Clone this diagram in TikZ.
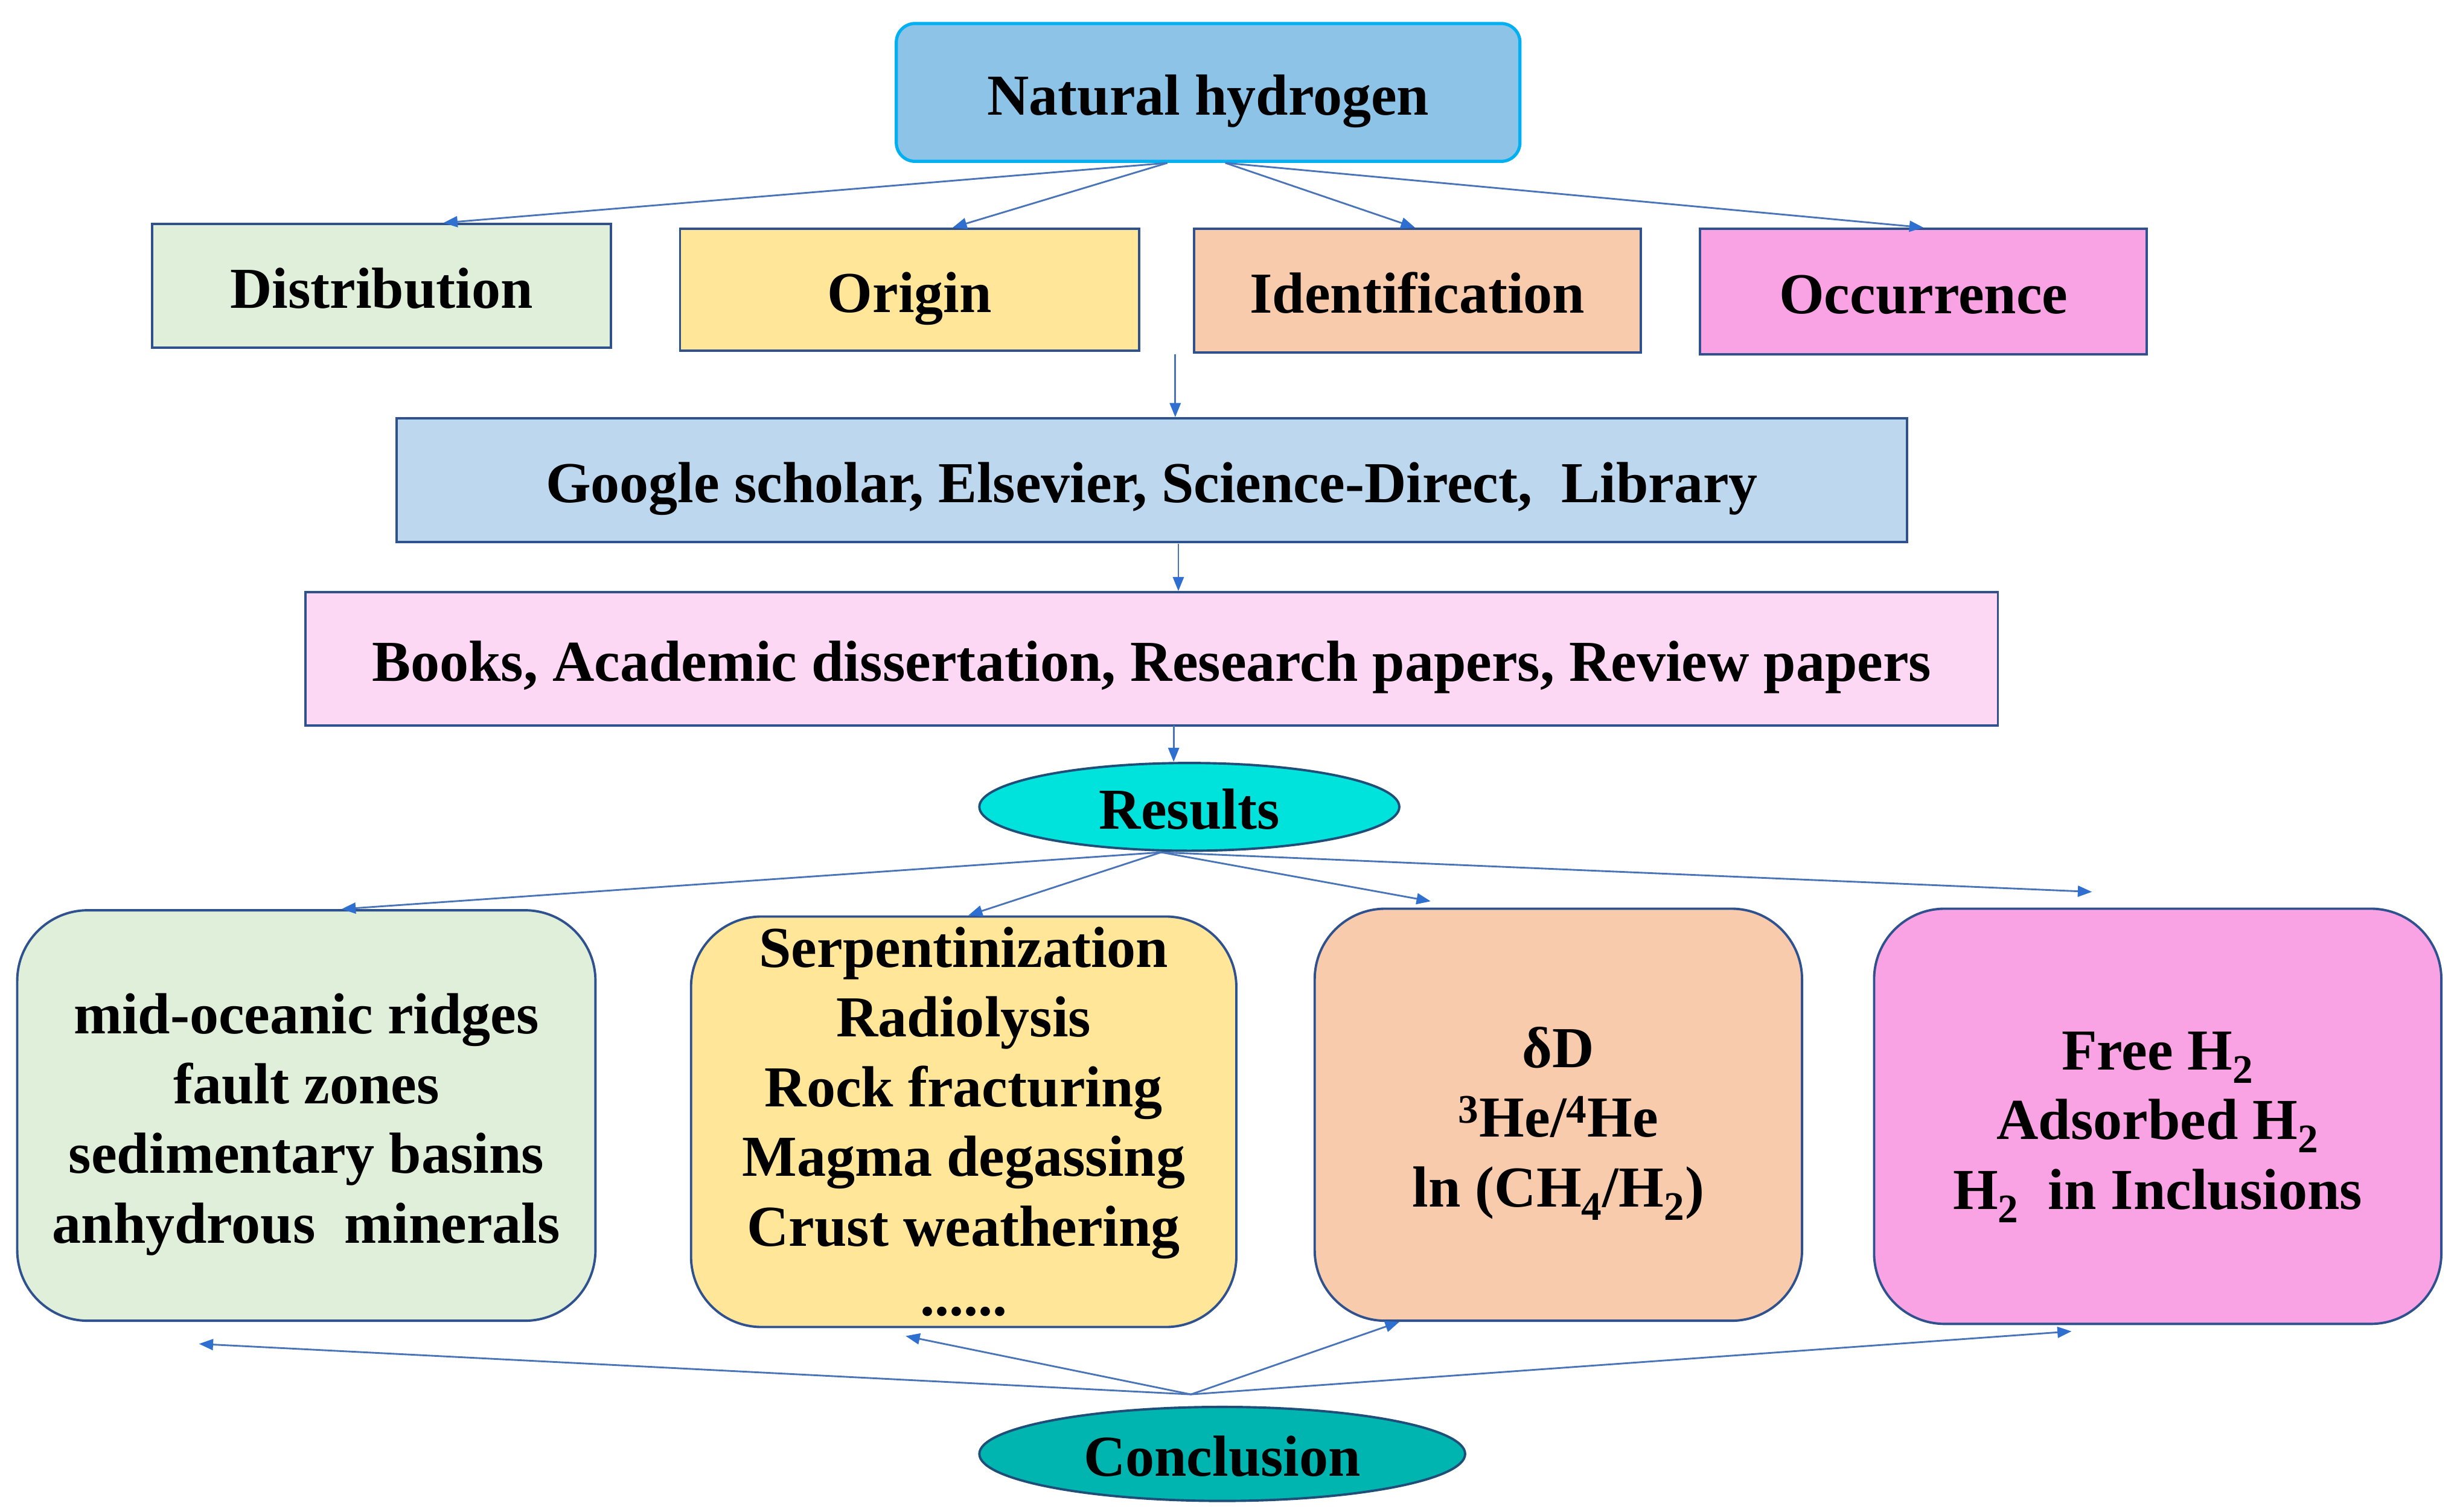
\documentclass[tikz,border=0pt]{standalone}
\usepackage{fontspec}
\setmainfont{Liberation Serif}
\usetikzlibrary{shapes.geometric,arrows.meta}
\definecolor{nhfill}{HTML}{8EC3E8}
\definecolor{nhborder}{HTML}{00B0F0}
\definecolor{boxblue}{HTML}{2F528F}
\definecolor{distfill}{HTML}{DFEFDA}
\definecolor{origfill}{HTML}{FFE699}
\definecolor{idenfill}{HTML}{F8CBAD}
\definecolor{occfill}{HTML}{F9A2E4}
\definecolor{googfill}{HTML}{BDD7EE}
\definecolor{bookfill}{HTML}{FCD8F4}
\definecolor{resfill}{HTML}{00E2DC}
\definecolor{concfill}{HTML}{00B4B0}
\definecolor{ovalborder}{HTML}{1F4E79}
\definecolor{linecol}{HTML}{4A74B8}
\definecolor{tipcol}{HTML}{2E6FD0}
\begin{document}
\begin{tikzpicture}[x=1pt,y=-1pt,
  base/.style={font=\bfseries\fontsize{37}{44.5}\selectfont, align=center, inner sep=0pt, text=black},
  oneline/.style={text height=28.5pt, text depth=0pt},
  topbox/.style={base, oneline, draw=nhborder, line width=2pt, fill=nhfill, rounded corners=12pt},
  catbox/.style={base, oneline, draw=boxblue, line width=1.5pt},
  resbox/.style={base, draw=boxblue, line width=1.5pt, rounded corners=45pt},
  oval/.style={base, oneline, ellipse, draw=ovalborder, line width=1.5pt},
  conn/.style={draw=linecol, line width=1.1pt, -{Triangle[length=9pt,width=7pt,color=tipcol]}}
]
\fill[white] (0,0) rectangle (1568,965);
\useasboundingbox (0,0) rectangle (1568,965);

\node[topbox, minimum width=398pt, minimum height=88pt] (nh) at (771,59) {Natural hydrogen};

\node[catbox, fill=distfill, minimum width=293pt, minimum height=79pt] (dist) at (243.5,182.5) {Distribution};
\node[catbox, fill=origfill, minimum width=293pt, minimum height=78pt] (orig) at (580.5,185) {Origin};
\node[catbox, fill=idenfill, minimum width=285pt, minimum height=79pt] (iden) at (904.5,185.5) {Identification};
\node[catbox, fill=occfill, minimum width=285pt, minimum height=80pt] (occ) at (1227.5,186) {Occurrence};

\node[catbox, fill=googfill, minimum width=964pt, minimum height=79pt] (goog) at (735,306.5) {Google scholar, Elsevier, Science-Direct,\ \ Library};
\node[catbox, fill=bookfill, minimum width=1080pt, minimum height=85pt] (books) at (735,420.5) {Books, Academic dissertation, Research papers, Review papers};

\node[oval, fill=resfill, minimum width=268pt, minimum height=56pt] (res) at (759,515) {Results};

\node[resbox, fill=distfill, minimum width=369pt, minimum height=262pt] (g1) at (195.5,712)
  {\rule{0pt}{37pt}mid-oceanic ridges\\fault zones\\sedimentary basins\\anhydrous\ \ minerals};
\node[resbox, fill=origfill, minimum width=348pt, minimum height=262pt] (g2) at (615,716)
  {Serpentinization\\Radiolysis\\Rock fracturing\\Magma degassing\\Crust weathering\\......};
\node[resbox, fill=idenfill, minimum width=311pt, minimum height=263pt] (g3) at (994.5,711.5)
  {\rule{0pt}{37pt}δD\\\textsuperscript{3}He/\textsuperscript{4}He\\ln (CH\textsubscript{4}/H\textsubscript{2})};
\node[resbox, fill=occfill, minimum width=362pt, minimum height=265pt] (g4) at (1377,712.5)
  {\rule{0pt}{38pt}Free H\textsubscript{2}\\Adsorbed H\textsubscript{2}\\H\textsubscript{2}\ \ in Inclusions};

\node[oval, fill=concfill, minimum width=310pt, minimum height=60pt] (conc) at (780,928) {Conclusion};

% connectors from Natural hydrogen
\coordinate (nhL) at (745,104);
\coordinate (nhR) at (782,104);
\draw[conn] (nhL) -- ([xshift=39.5pt]dist.north);
\draw[conn] (nhL) -- ([xshift=27.5pt]orig.north);
\draw[conn] (nhR) -- ([xshift=-1.5pt]iden.north);
\draw[conn] (nhR) -- (occ.north);

% vertical chain
\coordinate (midtop) at (750,226);
\draw[conn] (midtop) -- (midtop |- goog.north);
\coordinate (gb) at (752,347);
\draw[conn] (gb) -- (gb |- books.north);
\coordinate (bb) at (749,463);
\draw[conn] (bb) -- (bb |- res.north);

% Results fan
\coordinate (rs) at (741,544);
\draw[conn] (rs) -- ([xshift=22.5pt]g1.north);
\draw[conn] (rs) -- ([xshift=3pt]g2.north);
\draw[conn] (rs) -- ([xshift=-81.5pt,yshift=4pt]g3.north);
\draw[conn] (rs) -- ([xshift=-42pt,yshift=10pt]g4.north);

% Conclusion fan
\coordinate (cs) at (760,890);
\draw[conn] (cs) -- ([xshift=-68.5pt,yshift=-14pt]g1.south);
\draw[conn] (cs) -- ([xshift=-37pt,yshift=-5pt]g2.south);
\draw[conn] (cs) -- ([xshift=-101.5pt]g3.south);
\draw[conn] (cs) -- ([xshift=-55pt,yshift=-4pt]g4.south);
\end{tikzpicture}
\end{document}
